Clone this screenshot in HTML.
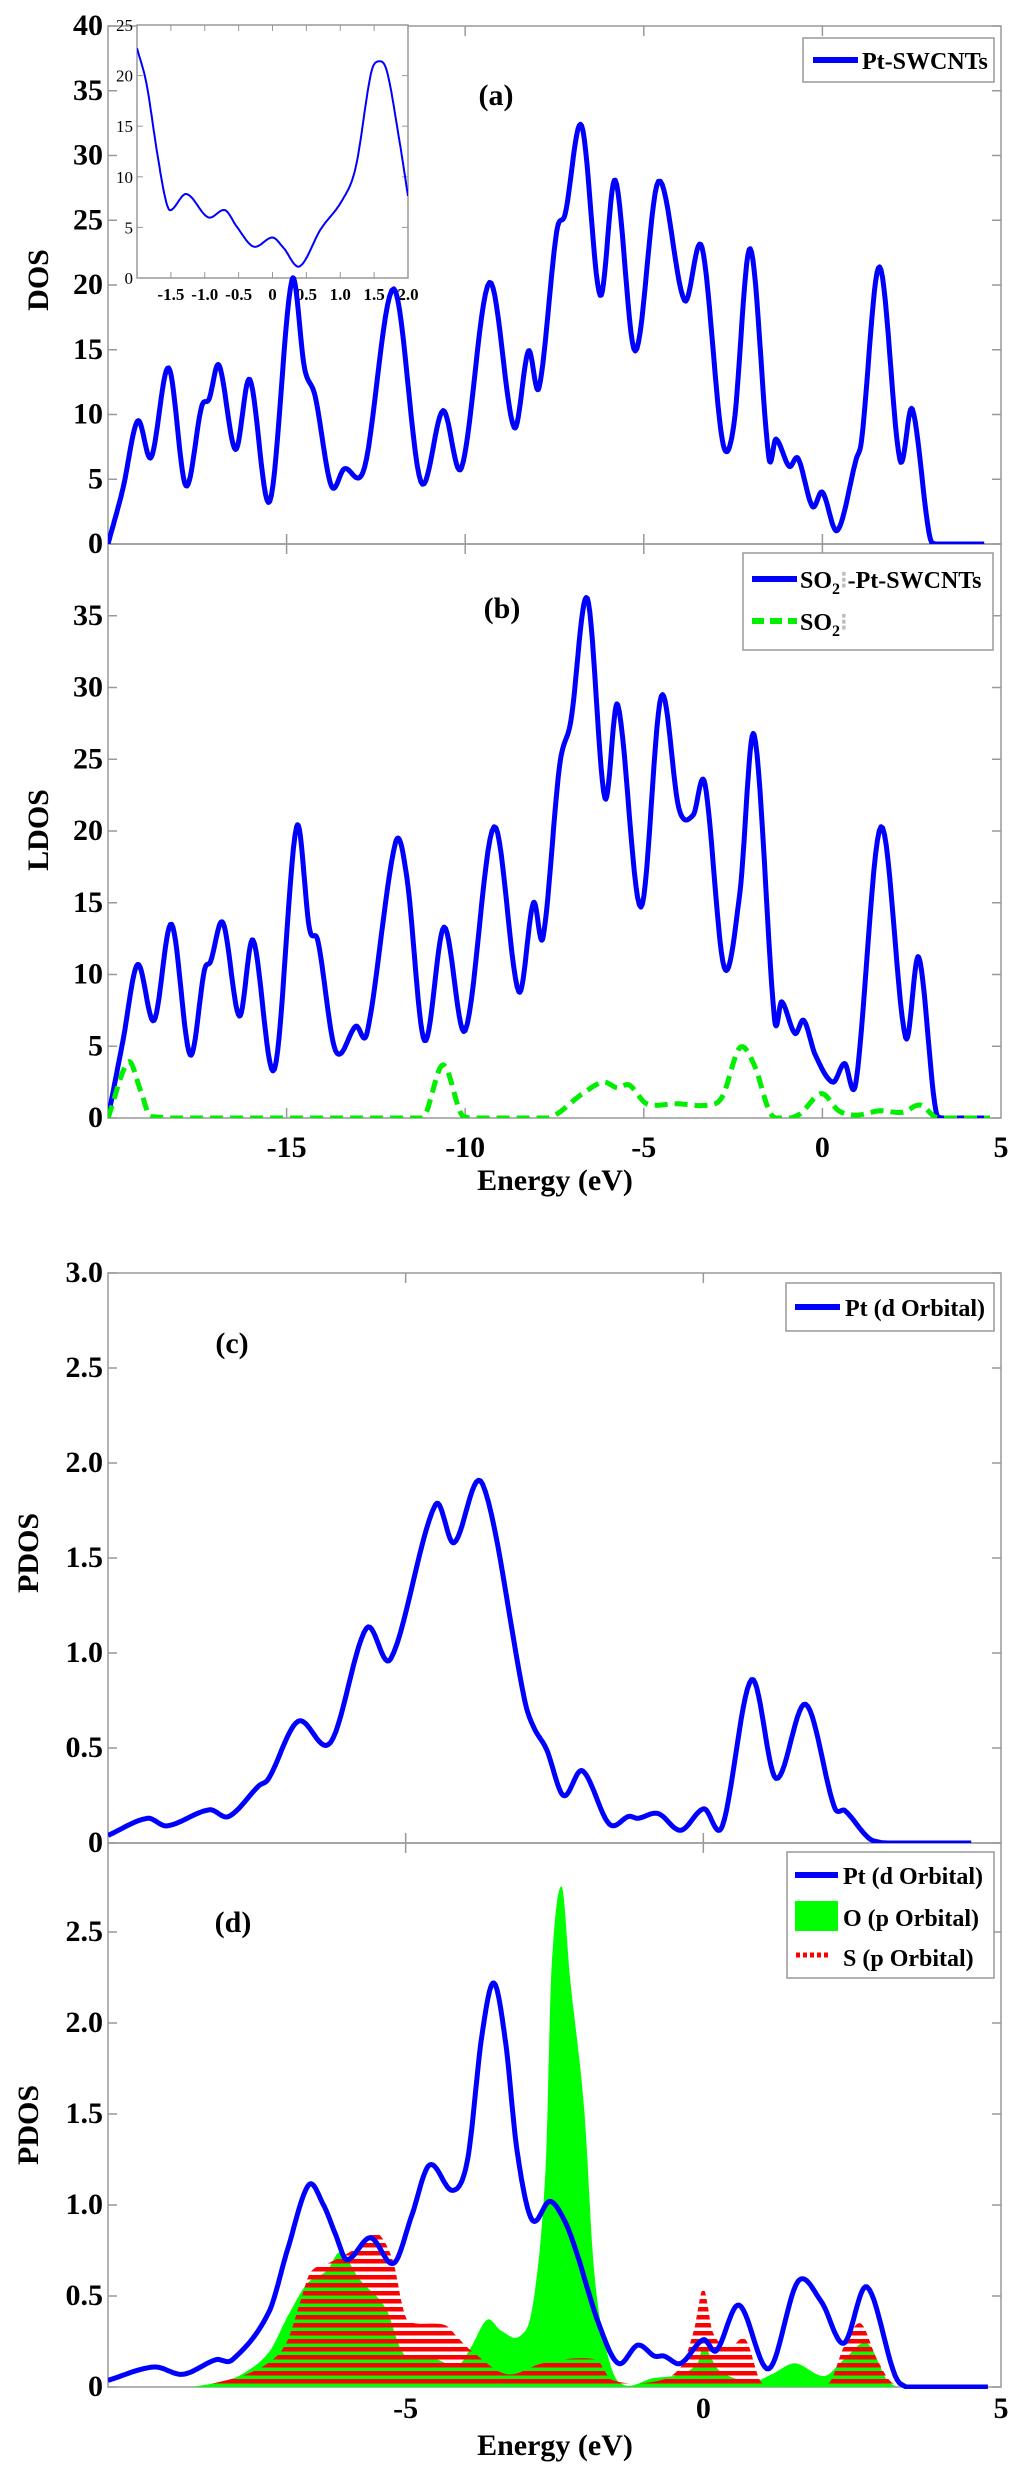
<!DOCTYPE html>
<html><head><meta charset="utf-8">
<style>
html,body{margin:0;padding:0;background:#fff;}
svg{display:block;}
text{font-family:"Liberation Serif",serif;font-weight:bold;fill:#000;}
</style></head>
<body>
<svg id="fig" width="1024" height="2479" viewBox="0 0 1024 2479" xmlns="http://www.w3.org/2000/svg">
<defs>
<pattern id="redStripes" patternUnits="userSpaceOnUse" width="8" height="8" y="2387">
<rect x="0" y="0" width="8" height="4.5" fill="#ff0000"/>
</pattern>
<clipPath id="clipA"><rect x="108" y="26" width="893" height="518"/></clipPath>
<clipPath id="clipB"><rect x="108" y="544" width="893" height="574"/></clipPath>
<clipPath id="clipC"><rect x="108" y="1273" width="893" height="570"/></clipPath>
<clipPath id="clipD"><rect x="108" y="1843" width="893" height="546"/></clipPath>
<clipPath id="clipI"><rect x="137" y="25" width="271" height="253"/></clipPath>
</defs>
<g id="axes"></g>
<g id="series"></g>
<g id="labels">
<text x="496" y="105" font-size="30" text-anchor="middle">(a)</text>
<text x="502" y="618" font-size="30" text-anchor="middle">(b)</text>
<text x="232" y="1353" font-size="30" text-anchor="middle">(c)</text>
<text x="233" y="1932" font-size="30" text-anchor="middle">(d)</text>
<text transform="translate(48,280) rotate(-90)" font-size="30" text-anchor="middle">DOS</text>
<text transform="translate(48,830) rotate(-90)" font-size="30" text-anchor="middle">LDOS</text>
<text transform="translate(38,1553) rotate(-90)" font-size="30" text-anchor="middle">PDOS</text>
<text transform="translate(38,2125) rotate(-90)" font-size="30" text-anchor="middle">PDOS</text>
<text x="555" y="1190" font-size="30" text-anchor="middle">Energy (eV)</text>
<text x="555" y="2455" font-size="30" text-anchor="middle">Energy (eV)</text>
</g>
<g id="legends">
<g>
<rect x="803" y="38" width="191" height="44" fill="#fff" stroke="#999" stroke-width="1.5"/>
<line x1="813" y1="60" x2="858" y2="60" stroke="#0000ff" stroke-width="6"/>
<text x="862" y="69" font-size="24">Pt-SWCNTs</text>
</g>
<g>
<rect x="743" y="553" width="250" height="97" fill="#fff" stroke="#999" stroke-width="1.5"/>
<line x1="752" y1="579" x2="797" y2="579" stroke="#0000ff" stroke-width="6"/>
<text x="800" y="588" font-size="24">SO<tspan font-size="16" dy="6">2</tspan><tspan dy="-6" fill="#bbb">⁝</tspan>-Pt-SWCNTs</text>
<line x1="752" y1="621" x2="797" y2="621" stroke="#00ee00" stroke-width="6" stroke-dasharray="12 6"/>
<text x="800" y="630" font-size="24">SO<tspan font-size="16" dy="6">2</tspan><tspan dy="-6" fill="#bbb">⁝</tspan></text>
</g>
<g>
<rect x="786" y="1283" width="208" height="48" fill="#fff" stroke="#999" stroke-width="1.5"/>
<line x1="795" y1="1307" x2="840" y2="1307" stroke="#0000ff" stroke-width="6"/>
<text x="845" y="1316" font-size="24">Pt (d Orbital)</text>
</g>
<g>
<rect x="787" y="1852" width="207" height="126" fill="#fff" stroke="#999" stroke-width="1.5"/>
<line x1="795" y1="1875" x2="838" y2="1875" stroke="#0000ff" stroke-width="6"/>
<text x="843" y="1884" font-size="24">Pt (d Orbital)</text>
<rect x="795" y="1901" width="43" height="30" fill="#00ff00"/>
<text x="843" y="1926" font-size="24">O (p Orbital)</text>
<line x1="796" y1="1955" x2="828" y2="1955" stroke="#ff0000" stroke-width="5" stroke-dasharray="4 3"/>
<text x="843" y="1966" font-size="24">S (p Orbital)</text>
</g>
</g>
</svg>
<script>
// ---- Panel (a) Pt-SWCNTs DOS ----
const aE=[-20,-19.58,-19.17,-18.79,-18.3,-17.82,-17.38,-17.17,-16.89,-16.43,-16.03,-15.47,-14.85,-14.5,-14.2,-13.75,-13.39,-12.82,-12.0,-11.24,-10.62,-10.1,-9.32,-8.63,-8.23,-7.93,-7.44,-7.2,-6.74,-6.22,-5.8,-5.24,-4.59,-3.86,-3.37,-2.8,-2.48,-2.02,-1.5,-1.3,-0.93,-0.68,-0.28,0,0.42,0.94,1.1,1.6,2.17,2.52,3.06,4.53];
const aV=[0,4.3,9.5,6.7,13.6,4.5,10.6,11.2,13.8,7.3,12.7,3.3,20.4,13.6,11.4,4.5,5.8,5.9,19.7,4.8,10.3,5.9,20.2,9,14.9,12.1,24.1,25.5,32.3,19.2,28.1,14.9,28,18.8,22.9,8,9.2,22.8,6.7,8.1,6,6.6,2.9,4,1.05,6.5,8.1,21.4,6.5,10.4,0.1,0];
// ---- Inset (a) ----
const iE=[-2,-1.86,-1.71,-1.59,-1.51,-1.27,-0.95,-0.7,-0.53,-0.28,0,0.16,0.4,0.71,1.03,1.23,1.45,1.56,1.69,1.87,2.0];
const iV=[22.7,19.2,12.7,8.1,6.7,8.3,6.0,6.7,5.1,3.1,4.0,3.0,1.15,4.8,7.7,11,20.1,21.4,20.4,13.7,8.1];
// ---- Panel (b) SO2-Pt-SWCNTs LDOS ----
const bE=[-20,-19.58,-19.17,-18.71,-18.22,-17.7,-17.3,-17.13,-16.78,-16.32,-15.94,-15.34,-14.72,-14.36,-14.12,-13.63,-13.06,-12.74,-11.95,-11.63,-11.14,-10.59,-10.0,-9.19,-8.5,-8.09,-7.82,-7.36,-7.04,-6.58,-6.09,-5.73,-5.08,-4.51,-4.02,-3.62,-3.29,-2.75,-2.31,-1.91,-1.34,-1.14,-0.77,-0.52,-0.2,0.29,0.62,0.94,1.64,2.33,2.7,3.22,4.69];
const bV=[0,5.4,10.7,6.8,13.5,4.4,10.3,10.9,13.6,7.1,12.4,3.4,20.3,13.2,12.3,4.7,6.4,6,19.2,16.7,5.4,13.3,6.1,20.3,8.8,15,12.6,24.5,27.7,36.2,22.3,28.8,14.7,29.4,21.6,21.1,23.3,10.5,15.7,26.7,6.9,8.1,5.9,6.8,4.4,2.5,3.8,2.5,20.3,5.6,11.2,0.1,0];
const gE=[-20,-19.43,-19.1,-18.8,-11.2,-10.62,-10.05,-7.69,-6.71,-6.14,-5.73,-5.41,-4.92,-4.1,-3.21,-2.8,-2.31,-1.91,-1.42,-0.68,-0.03,0.46,0.94,1.6,2.25,2.74,3.22,4.69];
const gV=[0,3.9,2,0.1,0,3.7,0.1,0,1.7,2.5,2.1,2.3,1,1,0.9,1.5,4.9,3.7,0.2,0.2,1.7,0.5,0.2,0.5,0.4,0.9,0,0];
// ---- Panel (c) Pt d orbital ----
const cE=[-10,-9.34,-9.01,-8.3,-7.97,-7.47,-7.3,-6.81,-6.26,-5.66,-5.25,-4.5,-4.19,-3.71,-3.0,-2.85,-2.63,-2.35,-2.03,-1.58,-1.25,-1.1,-0.76,-0.38,0.01,0.32,0.81,1.22,1.72,2.2,2.38,2.87,4.5];
const cV=[0.04,0.13,0.09,0.175,0.14,0.3,0.34,0.64,0.53,1.13,0.97,1.78,1.58,1.89,0.75,0.61,0.49,0.25,0.38,0.1,0.14,0.13,0.155,0.067,0.18,0.09,0.86,0.34,0.73,0.19,0.17,0.01,0];
// ---- Panel (d) ----
const dPtE=[-10,-9.23,-8.74,-8.19,-7.91,-7.3,-6.98,-6.63,-6.38,-6.18,-5.99,-5.59,-5.2,-4.9,-4.6,-4.21,-3.96,-3.72,-3.52,-3.32,-3.13,-2.88,-2.58,-2.34,-2.14,-1.76,-1.43,-1.1,-0.82,-0.66,-0.38,0,0.22,0.6,1.1,1.59,1.98,2.36,2.75,3.3,4.78];
const dPtV=[0.037,0.11,0.07,0.15,0.15,0.41,0.76,1.11,1.0,0.84,0.7,0.82,0.68,0.94,1.22,1.08,1.25,1.93,2.22,1.89,1.3,0.92,1.02,0.92,0.75,0.35,0.13,0.23,0.17,0.17,0.13,0.26,0.2,0.45,0.1,0.58,0.47,0.24,0.55,0.02,0];
const dOE=[-8.6,-8.08,-7.75,-7.3,-6.98,-6.65,-6.32,-6.1,-5.77,-5.33,-5.1,-4.95,-4.56,-4.12,-3.9,-3.63,-3.4,-3.08,-2.86,-2.65,-2.55,-2.38,-2.24,-2.0,-1.85,-1.7,-1.43,-0.82,-0.38,-0.1,0,0.27,0.82,1.15,1.54,2.03,2.36,2.75,3.08,3.25];
const dOV=[0,0.03,0.07,0.19,0.39,0.57,0.64,0.74,0.59,0.43,0.22,0.16,0.16,0.12,0.22,0.37,0.31,0.28,0.46,1.2,2.3,2.75,2.25,1.52,0.7,0.31,0.03,0.05,0.07,0.13,0.22,0.09,0.03,0.07,0.13,0.06,0.15,0.24,0.04,0];
const dSE=[-10,-8.5,-8.1,-7.6,-7.2,-6.98,-6.76,-6.6,-6.3,-6.0,-5.75,-5.5,-5.22,-5.05,-4.95,-4.34,-4.12,-3.9,-3.3,-2.7,-1.8,-1.54,-0.82,-0.38,-0.16,0,0.16,0.44,0.71,0.99,2.1,2.36,2.64,2.92,3.2,4.8];
const dSV=[0.005,0.01,0.03,0.08,0.16,0.26,0.48,0.63,0.68,0.73,0.78,0.85,0.7,0.44,0.36,0.34,0.27,0.2,0.07,0.13,0.15,0.04,0.03,0.11,0.31,0.54,0.3,0.22,0.26,0.02,0.02,0.22,0.35,0.15,0.02,0.01];
// tick labels
const abXTicks=[-15,-10,-5,0,5];
const aYTicks=[0,5,10,15,20,25,30,35,40];
const bYTicks=[0,5,10,15,20,25,30,35];
const cdXTicks=[-5,0,5];
const cYTicks=["0","0.5","1.0","1.5","2.0","2.5","3.0"];
const dYTicks=["0","0.5","1.0","1.5","2.0","2.5"];
const insetXTicks=["-1.5","-1.0","-0.5","0","0.5","1.0","1.5","2.0"];
const insetYTicks=[0,5,10,15,20,25];

const NS="http://www.w3.org/2000/svg";
const axesG=document.getElementById('axes');
const seriesG=document.getElementById('series');
function mk(tag,attrs,parent){const e=document.createElementNS(NS,tag);for(const k in attrs)e.setAttribute(k,attrs[k]);parent.appendChild(e);return e;}
function scale(d0,d1,r0,r1){return v=>r0+(v-d0)/(d1-d0)*(r1-r0);}

const P={
 a:{x:scale(-20,5,108,1001),y:scale(0,40,544,26),clip:'clipA'},
 b:{x:scale(-20,5,108,1001),y:scale(0,40,1118,544),clip:'clipB'},
 c:{x:scale(-10,5,108,1001),y:scale(0,3,1843,1273),clip:'clipC'},
 d:{x:scale(-10,5,108,1001),y:scale(0,3,2387,1841),clip:'clipD'},
 i:{x:scale(-2,2,137,408),y:scale(0,25,278,25),clip:'clipI'}
};

function sample(E,V){
 const out=[];const n=E.length;
 for(let k=0;k<n-1;k++){
  const x0=E[Math.max(k-1,0)],x1=E[k],x2=E[k+1],x3=E[Math.min(k+2,n-1)];
  const y0=V[Math.max(k-1,0)],y1=V[k],y2=V[k+1],y3=V[Math.min(k+2,n-1)];
  const m1=(y2-y0)/((x2-x0)||1)*(x2-x1), m2=(y3-y1)/((x3-x1)||1)*(x2-x1);
  const steps=14;
  for(let s=0;s<steps;s++){const t=s/steps,t2=t*t,t3=t2*t;
   const h00=2*t3-3*t2+1,h10=t3-2*t2+t,h01=-2*t3+3*t2,h11=t3-t2;
   let v=h00*y1+h10*m1+h01*y2+h11*m2; if(v<0)v=0;
   out.push([x1+(x2-x1)*t,v]);}
 }
 out.push([E[n-1],V[n-1]]);return out;
}
function linePath(p,E,V){return sample(E,V).map((q,i)=>(i?'L':'M')+p.x(q[0]).toFixed(1)+' '+p.y(q[1]).toFixed(1)).join(' ');}
function areaPath(p,E,V){const s=sample(E,V);return 'M'+p.x(s[0][0]).toFixed(1)+' '+p.y(0)+' '+s.map(q=>'L'+p.x(q[0]).toFixed(1)+' '+p.y(q[1]).toFixed(1)).join(' ')+' L'+p.x(s[s.length-1][0]).toFixed(1)+' '+p.y(0)+' Z';}

// frames
function frame(name,x0,y0,x1,y1){
 const r=mk('rect',{x:x0,y:y0,width:x1-x0,height:y1-y0,fill:'none',stroke:'#999','stroke-width':1.5},axesG);
 
 
}
frame('panel-a-frame',108,26,1001,544);
frame('panel-b-frame',108,544,1001,1118);
frame('panel-c-frame',108,1273,1001,1843);
frame('panel-d-frame',108,1843,1001,2387);

function yTicks(p,vals,labels,x0,x1,name,fs){
 vals.forEach((v,i)=>{
  const y=p.y(v);
  mk('line',{x1:x0,y1:y,x2:x0+9,y2:y,stroke:'#999','stroke-width':1.5},axesG);
  mk('line',{x1:x1,y1:y,x2:x1-9,y2:y,stroke:'#999','stroke-width':1.5},axesG);
  const t=mk('text',{x:x0-5,y:y+9,'font-size':fs,'text-anchor':'end'},axesG);
  t.textContent=labels[i];
  
  
 });
}
yTicks(P.a,aYTicks,aYTicks.map(String),108,1001,'panel-a-y',30);
yTicks(P.b,bYTicks,bYTicks.map(String),108,1001,'panel-b-y',30);
yTicks(P.c,cYTicks.map(Number),cYTicks,108,1001,'panel-c-y',30);
yTicks(P.d,dYTicks.map(Number),dYTicks,108,1001,'panel-d-y',30);

function xTicks(p,vals,ys,labelY,name){
 vals.forEach(v=>{
  const x=p.x(v);
  ys.forEach(([y,dir])=>mk('line',{x1:x,y1:y,x2:x,y2:y+dir*10,stroke:'#999','stroke-width':1.5},axesG));
  if(labelY){const t=mk('text',{x:x,y:labelY,'font-size':30,'text-anchor':'middle'},axesG);
   t.textContent=String(v);
   
   }
 });
}
xTicks(P.a,abXTicks.slice(0,4),[[26,1],[544,-1],[544,1],[1118,-1]],1157,'panel-b-x');
xTicks(P.b,[5],[],1157,'panel-b-x');
xTicks(P.c,cdXTicks.slice(0,2),[[1273,1],[1843,-1],[1843,1],[2387,-1]],2418,'panel-d-x');
xTicks(P.d,[5],[],2418,'panel-d-x');

// inset
const ins=mk('g',{},axesG);


mk('rect',{x:137,y:25,width:271,height:253,fill:'#fff',stroke:'#999','stroke-width':1.5},ins);
insetYTicks.forEach(v=>{const y=P.i.y(v);
 mk('line',{x1:137,y1:y,x2:143,y2:y,stroke:'#999'},ins);
 mk('line',{x1:408,y1:y,x2:402,y2:y,stroke:'#999'},ins);
 const t=mk('text',{x:133,y:y+6,'font-size':17,'text-anchor':'end','font-weight':'normal',style:'font-weight:normal'},ins);
 t.textContent=String(v);
 
 });
insetXTicks.forEach(s=>{const x=P.i.x(Number(s));
 mk('line',{x1:x,y1:278,x2:x,y2:272,stroke:'#999'},ins);
 mk('line',{x1:x,y1:25,x2:x,y2:31,stroke:'#999'},ins);
 const t=mk('text',{x:x,y:300,'font-size':17,'text-anchor':'middle'},ins);
 t.textContent=s;
 
 });

// series
function addPath(d,attrs,clip,name){
 const e=mk('path',Object.assign({d:d,'clip-path':'url(#'+clip+')'},attrs),seriesG);
 return e;
}
let s;
s=addPath(linePath(P.a,aE,aV),{fill:'none',stroke:'#0000ff','stroke-width':5,'stroke-linejoin':'round'},'clipA');


s=addPath(linePath(P.i,iE,iV),{fill:'none',stroke:'#0000ff','stroke-width':2},'clipI');


s=addPath(linePath(P.b,bE,bV),{fill:'none',stroke:'#0000ff','stroke-width':5,'stroke-linejoin':'round'},'clipB');


s=addPath(linePath(P.b,gE,gV),{fill:'none',stroke:'#00ee00','stroke-width':5,'stroke-dasharray':'13 7'},'clipB');


s=addPath(linePath(P.c,cE,cV),{fill:'none',stroke:'#0000ff','stroke-width':5,'stroke-linejoin':'round'},'clipC');


s=addPath(areaPath(P.d,dOE,dOV),{fill:'#00ff00',stroke:'none'},'clipD');


s=addPath(areaPath(P.d,dSE,dSV),{fill:'url(#redStripes)',stroke:'none'},'clipD');


s=addPath(linePath(P.d,dPtE,dPtV),{fill:'none',stroke:'#0000ff','stroke-width':5,'stroke-linejoin':'round'},'clipD');


</script>
</body></html>
